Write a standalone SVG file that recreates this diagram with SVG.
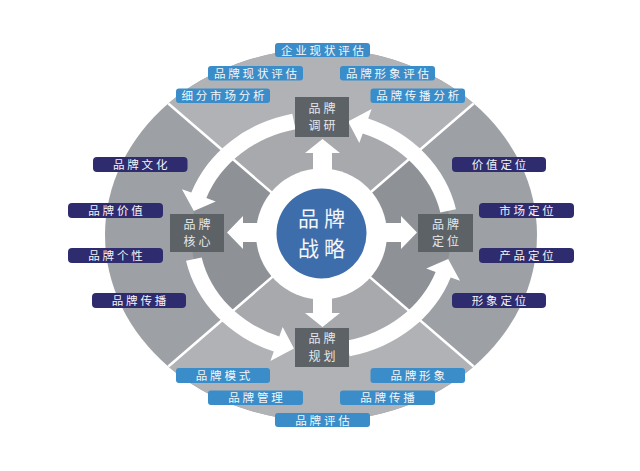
<svg xmlns="http://www.w3.org/2000/svg" width="640" height="471" viewBox="0 0 640 471">
<style>
.t{font-family:"Noto Sans CJK SC","Noto Sans",sans-serif;fill:#f4f6f8;text-anchor:middle}
.lb{fill:#3a8dc9}
.nv{fill:#2e2b6f}
.lt{font-size:11.5px;letter-spacing:2.8px}
.bx{fill:#5d6267}
.bt{font-size:12px;letter-spacing:3px;fill:#e6e8ea}
.arw{fill:#ffffff}
.div{stroke:#ffffff;stroke-width:2.5;fill:none}
</style>
<rect width="640" height="471" fill="#ffffff"/>
<g id="background">
  <ellipse cx="321" cy="235" rx="216" ry="186" fill="#9da0a4"/>
  <path d="M321,235 L168.3,103.5 A216,186 0 0 1 473.7,103.5 Z" fill="#b0b2b5"/>
  <path d="M321,235 L473.7,366.5 A216,186 0 0 1 168.3,366.5 Z" fill="#b0b2b5"/>
  <ellipse cx="321" cy="235" rx="130" ry="116" fill="#8e9196"/>
  <path d="M321,235 L227.5,154.4 A130,116 0 0 1 414.5,154.4 Z" fill="#a7a9ac"/>
  <path d="M321,235 L414.5,315.6 A130,116 0 0 1 227.5,315.6 Z" fill="#a7a9ac"/>
  <path class="div" d="M321,235 L168.3,103.5 M321,235 L473.7,103.5 M321,235 L473.7,366.5 M321,235 L168.3,366.5"/>
</g>
<g id="connectors">
  <path class="arw" d="M292.31,113.71 A138,124 0 0 0 191.32,192.59 L181.93,189.17 L193.84,210.88 L215.75,201.48 L206.36,198.06 A122,108 0 0 1 295.63,129.36 Z"/>
  <path class="arw" d="M186.02,260.78 A138,124 0 0 0 273.8,351.52 L270.38,360.92 L293.97,348.47 L282.69,327.09 L279.27,336.49 A122,108 0 0 1 201.67,257.45 Z"/>
  <path class="arw" d="M349.69,356.29 A138,124 0 0 0 450.68,277.41 L460.07,280.83 L448.16,259.12 L426.25,268.52 L435.64,271.94 A122,108 0 0 1 346.37,340.64 Z"/>
  <path class="arw" d="M455.98,209.22 A138,124 0 0 0 368.2,118.48 L371.62,109.08 L348.03,121.53 L359.31,142.91 L362.73,133.51 A122,108 0 0 1 440.33,212.55 Z"/>
  <path class="arw" d="M313,175 L313,153 L305,153 L322.5,139 L340,153 L332,153 L332,175 Z"/>
  <path class="arw" d="M313,295 L313,313 L305,313 L322.5,327 L340,313 L332,313 L332,295 Z"/>
  <path class="arw" d="M262,223 L243,223 L243,216 L227,232.5 L243,249 L243,242 L262,242 Z"/>
  <path class="arw" d="M382,223 L401,223 L401,216 L417,232.5 L401,249 L401,242 L382,242 Z"/>
</g>
<g id="center">
  <circle cx="321.5" cy="234" r="65.5" fill="#ffffff"/>
  <circle cx="321.5" cy="233.5" r="45" fill="#3e6dab"/>
  <text class="t" font-size="21" letter-spacing="5"><tspan x="324" y="225.5">品牌</tspan><tspan x="324" y="256">战略</tspan></text>
</g>
<g id="box-research">
  <rect class="bx" x="295" y="97" width="54" height="40"/>
  <text class="t bt"><tspan x="323.5" y="112.8">品牌</tspan><tspan x="323.5" y="130.3">调研</tspan></text>
</g>
<g id="box-core">
  <rect class="bx" x="170" y="214" width="54" height="38"/>
  <text class="t bt"><tspan x="198.5" y="228.8">品牌</tspan><tspan x="198.5" y="246.3">核心</tspan></text>
</g>
<g id="box-positioning">
  <rect class="bx" x="418" y="214" width="55" height="38"/>
  <text class="t bt"><tspan x="447" y="228.8">品牌</tspan><tspan x="447" y="246.3">定位</tspan></text>
</g>
<g id="box-planning">
  <rect class="bx" x="295" y="328" width="54" height="39"/>
  <text class="t bt"><tspan x="323.5" y="343.3">品牌</tspan><tspan x="323.5" y="360.8">规划</tspan></text>
</g>
<g id="label-qiye"><rect class="lb" x="275" y="43" width="95" height="14" rx="3"/><text class="t lt" x="323.9" y="54.5">企业现状评估</text></g>
<g id="label-xianzhuang"><rect class="lb" x="208" y="66" width="95" height="14.5" rx="3"/><text class="t lt" x="256.9" y="77.5">品牌现状评估</text></g>
<g id="label-xingxiang-pg"><rect class="lb" x="340" y="66" width="95" height="14.5" rx="3"/><text class="t lt" x="388.9" y="77.5">品牌形象评估</text></g>
<g id="label-xifen"><rect class="lb" x="176" y="88.5" width="94" height="14.5" rx="3"/><text class="t lt" x="224.4" y="100">细分市场分析</text></g>
<g id="label-chuanbo-fx"><rect class="lb" x="370.5" y="88.5" width="94.5" height="14.5" rx="3"/><text class="t lt" x="419.1" y="100">品牌传播分析</text></g>
<g id="label-moshi"><rect class="lb" x="176" y="368" width="94" height="15" rx="3"/><text class="t lt" x="224.4" y="379.8">品牌模式</text></g>
<g id="label-xingxiang"><rect class="lb" x="370.5" y="368" width="94.5" height="15" rx="3"/><text class="t lt" x="419.1" y="379.8">品牌形象</text></g>
<g id="label-guanli"><rect class="lb" x="208" y="390.5" width="95" height="14.5" rx="3"/><text class="t lt" x="256.9" y="402">品牌管理</text></g>
<g id="label-chuanbo-b"><rect class="lb" x="340" y="390.5" width="95" height="14.5" rx="3"/><text class="t lt" x="388.9" y="402">品牌传播</text></g>
<g id="label-pinggu"><rect class="lb" x="275" y="413" width="95" height="14" rx="3"/><text class="t lt" x="323.9" y="424.5">品牌评估</text></g>
<g id="label-wenhua"><rect class="nv" x="93" y="157" width="94.5" height="15" rx="4"/><text class="t lt" x="141.6" y="168.8">品牌文化</text></g>
<g id="label-jiazhi"><rect class="nv" x="68" y="203" width="95" height="15" rx="4"/><text class="t lt" x="116.9" y="214.8">品牌价值</text></g>
<g id="label-gexing"><rect class="nv" x="68" y="248" width="95" height="15" rx="4"/><text class="t lt" x="116.9" y="259.8">品牌个性</text></g>
<g id="label-chuanbo-l"><rect class="nv" x="92" y="293" width="94" height="15" rx="4"/><text class="t lt" x="140.4" y="304.8">品牌传播</text></g>
<g id="label-jiazhi-dw"><rect class="nv" x="452" y="157" width="94" height="15" rx="4"/><text class="t lt" x="500.4" y="168.8">价值定位</text></g>
<g id="label-shichang-dw"><rect class="nv" x="479" y="203" width="95" height="15" rx="4"/><text class="t lt" x="527.9" y="214.8">市场定位</text></g>
<g id="label-chanpin-dw"><rect class="nv" x="479" y="248" width="95" height="15" rx="4"/><text class="t lt" x="527.9" y="259.8">产品定位</text></g>
<g id="label-xingxiang-dw"><rect class="nv" x="452" y="293" width="94" height="15" rx="4"/><text class="t lt" x="500.4" y="304.8">形象定位</text></g>
</svg>
